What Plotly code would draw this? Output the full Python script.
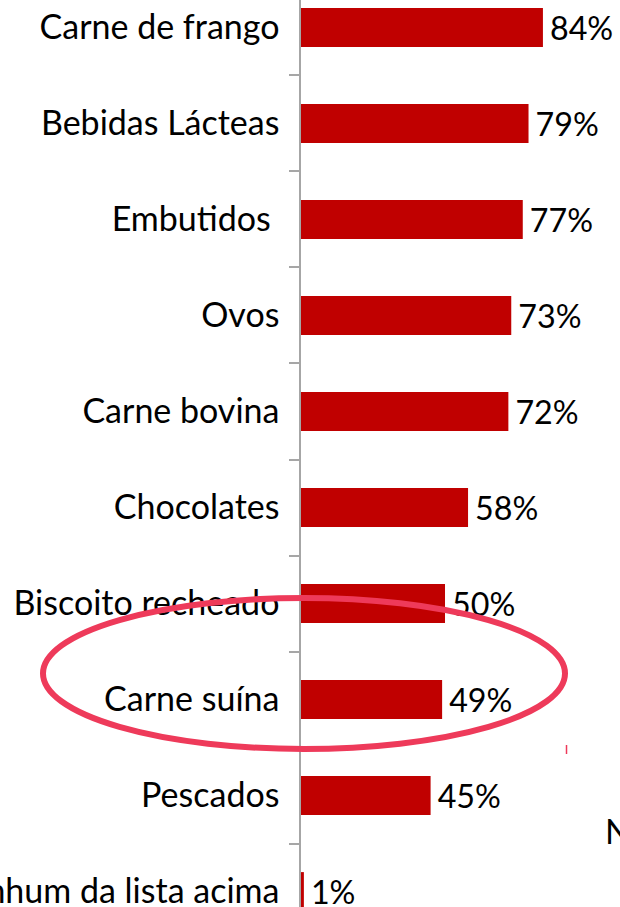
import plotly.graph_objects as go

categories = ["Carne de frango", "Bebidas Lácteas", "Embutidos\u00a0", "Ovos", "Carne bovina",
              "Chocolates", "Biscoito recheado", "Carne suína", "Pescados", "Nenhum da lista acima"]
values = [84, 79, 77, 73, 72, 58, 50, 49, 45, 1]

BAR = "#C00000"
AXIS = "#A6A6A6"
RING = "#EE3A5A"
FONT = "Lato"
FS = 34

fig = go.Figure(go.Bar(
    x=values, y=categories, orientation="h",
    marker=dict(color=BAR, line=dict(width=0)),
    width=0.405,
    text=values, texttemplate="\u2009%{x}%", textposition="outside",
    textfont=dict(family=FONT, size=FS, color="#000000"),
    cliponaxis=False,
))

fig.update_layout(
    width=620, height=907,
    margin=dict(l=301, r=0, t=0, b=0),
    paper_bgcolor="white", plot_bgcolor="white",
    showlegend=False,
    font=dict(family=FONT, size=FS, color="#000000"),
    xaxis=dict(range=[0, 110.76], visible=False, showgrid=False, zeroline=False),
    yaxis=dict(
        categoryorder="array", categoryarray=categories,
        range=[9.161, -0.286],
        showline=True, linecolor=AXIS, linewidth=1.5,
        ticks="outside", ticklen=10, tickcolor=AXIS, tickwidth=1.5,
        tickson="boundaries", ticklabelstandoff=13,
        showgrid=False, zeroline=False, automargin=False,
        tickfont=dict(family=FONT, size=FS, color="#000000"),
    ),
)

# highlight ellipse around "Carne suína" (paper coords so it is not clipped)
fig.add_shape(type="circle", xref="paper", yref="paper",
              x0=-0.8088, x1=0.8276, y0=0.1742, y1=0.3407,
              line=dict(color=RING, width=6), fillcolor="rgba(0,0,0,0)")
# small red stroke and cropped note letter
fig.add_shape(type="line", xref="paper", yref="paper", x0=0.8323, x1=0.8323, y0=0.1687, y1=0.1786,
              line=dict(color=RING, width=1.5))
fig.add_annotation(text="N", xref="paper", yref="paper", x=0.9467, y=0.0838, xanchor="left",
                   yanchor="middle", showarrow=False,
                   font=dict(family=FONT, size=FS, color="#000000"))

fig.write_html("out.html", config={"displayModeBar": False},
               post_script="document.body.style.margin='0';document.body.style.overflow='hidden';")
